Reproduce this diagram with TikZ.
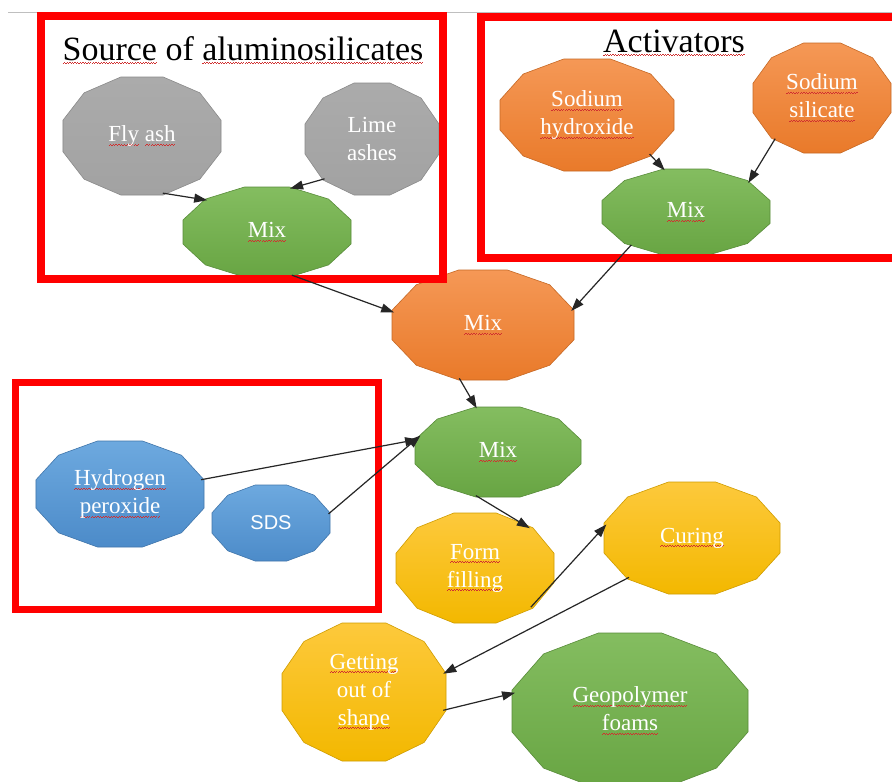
\documentclass[tikz,border=0pt]{standalone}
\usepackage{fontspec}
\setmainfont{Liberation Serif}
\newfontfamily\sdsfont{Liberation Sans}
\usetikzlibrary{shapes.geometric,arrows.meta}
\definecolor{grayT}{HTML}{ABABAB}
\definecolor{grayB}{HTML}{A2A2A2}
\definecolor{greenT}{HTML}{84BD60}
\definecolor{greenB}{HTML}{68A543}
\definecolor{orangeT}{HTML}{F59856}
\definecolor{orangeB}{HTML}{E97A2A}
\definecolor{blueT}{HTML}{6DA9DF}
\definecolor{blueB}{HTML}{4C8BC9}
\definecolor{goldT}{HTML}{FDC93C}
\definecolor{goldB}{HTML}{F3B800}
\definecolor{boxred}{HTML}{FF0000}
\definecolor{squigred}{HTML}{D03030}
\newsavebox\sqbox
\newcommand\sqwave{\hbox{\vrule width1.3pt height0.7pt depth0pt\raise1.1pt\hbox{\vrule width1.3pt height0.7pt depth0pt}}}
\newcommand\sq[1]{\sbox\sqbox{#1}\rlap{\lower4pt\hbox to\wd\sqbox{\color{squigred}\xleaders\sqwave\hfil}}\usebox\sqbox}
\tikzset{
  lab/.style={ellipse, draw=none, inner sep=0pt, text=white, align=center,
    font=\fontsize{23}{28}\selectfont},
  arr/.style={-{Triangle[length=13pt,width=9pt]}, line width=1.2pt, draw=black!85},
  redbox/.style={draw=boxred, line width=7.5pt},
  title/.style={anchor=base, font=\fontsize{34}{40}\selectfont, text=black}
}
% #1 name, #2 cx, #3 cy, #4 half width, #5 half height, #6 top colour, #7 bottom colour, #8 text
\newcommand\dodeca[8]{%
  \path[top color=#6, bottom color=#7, draw=#7!85!black, line width=0.6pt]
    plot[samples at={15,45,...,345}] ({#2+#4*cos(\x)/0.9659},{#3+#5*sin(\x)/0.9659}) -- cycle;
  \node[lab, minimum width={2*#4pt}, minimum height={2*#5pt}] (#1) at (#2,#3) {#8};
}
\begin{document}
\begin{tikzpicture}[x=1pt,y=-1pt]
\useasboundingbox[fill=white] (0,0) rectangle (892,782);
\draw[black!25, line width=0.8pt] (8,12) -- (892,12);

% shapes
\dodeca{flyash}{142}{136}{79}{59}{grayT}{grayB}{\sq{Fly} \sq{ash}}
\dodeca{lime}{372}{139}{67}{56}{grayT}{grayB}{Lime\\ashes}
\dodeca{mixA}{267}{232}{84}{45}{greenT}{greenB}{\sq{Mix}}
\dodeca{sodhyd}{587}{115}{87}{56}{orangeT}{orangeB}{\sq{Sodium}\\\sq{hydroxide}}
\dodeca{sodsil}{822}{98}{69}{55}{orangeT}{orangeB}{\sq{Sodium}\\\sq{silicate}}
\dodeca{mixB}{686}{212}{84}{43}{greenT}{greenB}{\sq{Mix}}
\dodeca{mixC}{483}{325}{91}{55}{orangeT}{orangeB}{\sq{Mix}}
\dodeca{mixD}{498}{452}{83}{45}{greenT}{greenB}{\sq{Mix}}
\dodeca{hyd}{120}{494}{84}{53}{blueT}{blueB}{\sq{Hydrogen}\\\sq{peroxide}}
\dodeca{sds}{271}{523}{59}{38}{blueT}{blueB}{\sdsfont\fontsize{20}{24}\selectfont SDS}
\dodeca{form}{475}{568}{79}{55}{goldT}{goldB}{\sq{Form}\\\sq{filling}}
\dodeca{curing}{692}{538}{88}{56}{goldT}{goldB}{\sq{Curing}}
\dodeca{getting}{364}{692}{82}{69}{goldT}{goldB}{\sq{Getting}\\out of\\\sq{shape}}
\dodeca{geo}{630}{711}{118}{78}{greenT}{greenB}{\sq{Geopolymer}\\\sq{foams}}

% group boxes
\draw[redbox] (41,16) rectangle (443,279);
\draw[redbox] (481,17) rectangle (900,258);
\draw[redbox] (15.5,382.5) rectangle (378.5,609.5);

% titles
\node[title] (t1) at (243,60) {\sq{Source} of \sq{aluminosilicates}};
\node[title] (t2) at (674,52) {\sq{Activators}};

% connectors
\draw[arr] (flyash.-70) -- (mixA.152);
\draw[arr] (lime.220) -- (mixA.62);
\draw[arr] (sodhyd.-32) -- (mixB.117);
\draw[arr] (sodsil.221) -- (mixB.25);
\draw[arr] (mixA.-60) -- (mixC.172);
\draw[arr] (mixB.211) -- (mixC.9.5);
\draw[arr] (mixC.246) -- (mixD.116);
\draw[arr] (hyd.10) -- (mixD.171);
\draw[arr] (sds.9.6) -- (mixD.168);
\draw[arr] (mixD.243) -- (form.36);
\draw[arr] (form.-35) -- (curing.171.6);
\draw[arr] (curing.212) -- (getting.13.5);
\draw[arr] (getting.-13) -- (geo.171);
\end{tikzpicture}
\end{document}
